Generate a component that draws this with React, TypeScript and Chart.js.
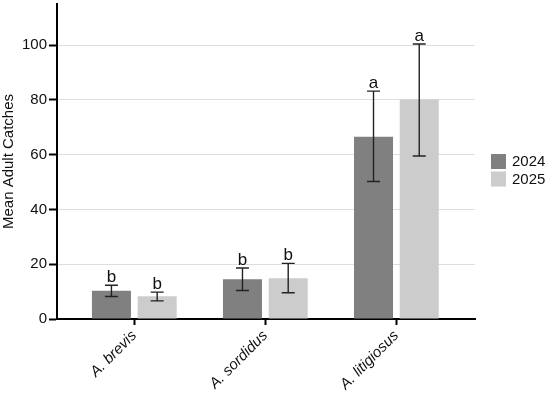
import React, { useEffect, useRef } from "react";
import { Chart, registerables } from "chart.js";

Chart.register(...registerables);

const categories = ["A. brevis", "A. sordidus", "A. litigiosus"];
const seriesLabels = ["2024", "2025"];
const means2024 = [10.3, 14.5, 66.5];
const means2025 = [8.3, 14.9, 80.1];
const upper2024 = [12.3, 18.6, 83.2];
const lower2024 = [8.2, 10.4, 50.2];
const upper2025 = [9.8, 20.3, 100.4];
const lower2025 = [6.6, 9.6, 59.5];
const letters2024 = ["b", "b", "a"];
const letters2025 = ["b", "b", "a"];
const yTicks = [0, 20, 40, 60, 80, 100];

const FONT = "'Liberation Sans', Arial, Helvetica, sans-serif";
const colors = ["#808080", "#cccccc"];

const upper = [upper2024, upper2025];
const lower = [lower2024, lower2025];
const letters = [letters2024, letters2025];

const overlayPlugin = {
  id: "overlay",
  afterDatasetsDraw(chart: any) {
    const ctx = chart.ctx;
    const yScale = chart.scales.y;
    ctx.save();
    chart.data.datasets.forEach((ds: any, i: number) => {
      const meta = chart.getDatasetMeta(i);
      meta.data.forEach((el: any, j: number) => {
        const x = el.x;
        const yt = yScale.getPixelForValue(upper[i][j]);
        const yb = yScale.getPixelForValue(lower[i][j]);
        ctx.strokeStyle = "#222";
        ctx.lineWidth = 1.4;
        ctx.beginPath();
        ctx.moveTo(x, yt);
        ctx.lineTo(x, yb);
        ctx.moveTo(x - 6.5, yt);
        ctx.lineTo(x + 6.5, yt);
        ctx.moveTo(x - 6.5, yb);
        ctx.lineTo(x + 6.5, yb);
        ctx.stroke();
        ctx.fillStyle = "#111";
        ctx.font = `17px ${FONT}`;
        ctx.textAlign = "center";
        ctx.textBaseline = "alphabetic";
        ctx.fillText(letters[i][j], x, yt - 3);
      });
    });
    // legend
    const area = chart.chartArea;
    const lx = area.right + 16;
    const cy = (area.top + area.bottom) / 2 + 10;
    const step = 17.5;
    const n = chart.data.datasets.length;
    chart.data.datasets.forEach((ds: any, i: number) => {
      const y = cy - (n * step) / 2 + i * step;
      ctx.fillStyle = ds.backgroundColor;
      ctx.fillRect(lx, y, 15, 15);
      ctx.fillStyle = "#111";
      ctx.font = `15px ${FONT}`;
      ctx.textAlign = "left";
      ctx.textBaseline = "middle";
      ctx.fillText(ds.label, lx + 21, y + 8);
    });
    ctx.restore();
  },
};

export default function App() {
  const ref = useRef<HTMLCanvasElement | null>(null);
  useEffect(() => {
    document.body.style.margin = "0";
    Chart.defaults.font.family = FONT;
    const chart = new Chart(ref.current as HTMLCanvasElement, {
      type: "bar",
      data: {
        datasets: [
          {
            label: seriesLabels[0],
            data: means2024.map((v, i) => ({ x: i, y: v })),
            backgroundColor: colors[0],
            borderWidth: 0,
          },
          {
            label: seriesLabels[1],
            data: means2025.map((v, i) => ({ x: i, y: v })),
            backgroundColor: colors[1],
            borderWidth: 0,
          },
        ],
      },
      options: {
        animation: false,
        responsive: false,
        maintainAspectRatio: false,
        categoryPercentage: 0.698,
        barPercentage: 0.853,
        layout: { padding: { top: 4, right: 75, left: 0, bottom: 0 } },
        plugins: { legend: { display: false }, tooltip: { enabled: false } },
        scales: {
          x: {
            type: "linear",
            min: -0.59,
            max: 2.6,
            offset: false,
            afterBuildTicks: (scale: any) => {
              scale.ticks = categories.map((_, i) => ({ value: i }));
            },
            afterFit: (scale: any) => {
              scale.height = 77;
              scale.paddingLeft = 0;
              scale.paddingRight = 0;
            },
            grid: {
              offset: false,
              drawOnChartArea: false,
              drawTicks: true,
              tickLength: 6,
              tickColor: "#000",
              tickWidth: 2,
            },
            border: { color: "#000", width: 2 },
            ticks: {
              autoSkip: false,
              maxRotation: 45,
              minRotation: 45,
              padding: 2,
              color: "#111",
              font: { size: 15, style: "italic", family: FONT },
              callback: (v: any) => categories[v] ?? "",
            },
          },
          y: {
            min: 0,
            max: 115,
            afterBuildTicks: (scale: any) => {
              scale.ticks = yTicks.map((v) => ({ value: v }));
            },
            afterFit: (scale: any) => {
              scale.width = 57;
              scale.paddingTop = 0;
              scale.paddingBottom = 0;
            },
            grid: {
              color: "#dedede",
              lineWidth: 1,
              tickColor: "#000",
              tickWidth: 2,
              tickLength: 8,
            },
            border: { color: "#000", width: 2 },
            ticks: {
              padding: 2,
              color: "#111",
              font: { size: 15, family: FONT },
            },
            title: {
              display: true,
              text: "Mean Adult Catches",
              color: "#111",
              font: { size: 15, family: FONT },
              padding: { top: 0, bottom: 2 },
            },
          },
        },
      },
      plugins: [overlayPlugin],
    } as any);
    return () => chart.destroy();
  }, []);
  return (
    <div style={{ width: 550, height: 396 }}>
      <canvas ref={ref} width={550} height={396} style={{ display: "block" }} />
    </div>
  );
}
